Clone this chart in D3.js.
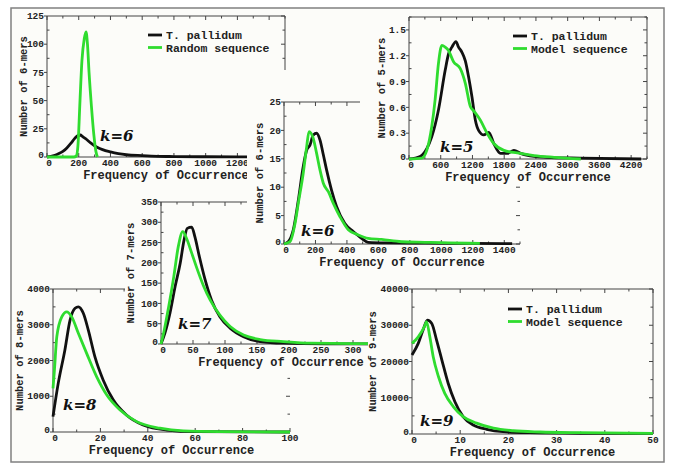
<!DOCTYPE html>
<html>
<head>
<meta charset="utf-8">
<script src="https://cdn.jsdelivr.net/npm/d3@7"></script>
<style>
body { margin: 0; background: #fff; }
text { font-family: "Liberation Mono", "DejaVu Sans Mono", monospace; font-weight: bold; fill: #222; }
.klabel { font-family: "DejaVu Serif", serif; font-style: italic; font-weight: bold; font-size: 15px; fill: #111; }
</style>
</head>
<body>
<svg id="fig"></svg>
<script>
// ---- data: [frequency, number of k-mers] ----
var k6RandTp = [[0,0],[25,0.5],[50,1.5],[75,3],[100,5],[125,8],[150,12],[175,16.5],[195,19],[210,19.5],[225,18],[250,15.5],[275,12.5],[300,10],[325,8],[350,6.5],[400,4.5],[450,3],[500,2],[600,1.2],[700,0.6],[800,0.4],[1000,0.2],[1200,0.1],[1400,0]];
var k6Random = [[0,0],[170,0],[185,1],[195,10],[208,50],[220,85],[235,105],[246,111],[255,100],[265,75],[280,45],[295,20],[308,5],[318,0]];

var k5Tp = [[0,0],[209,0.03],[336,0.12],[431,0.26],[557,0.57],[684,1.03],[747,1.22],[811,1.3],[887,1.365],[937,1.3],[1001,1.24],[1065,1.14],[1128,0.95],[1191,0.72],[1255,0.45],[1318,0.33],[1413,0.28],[1508,0.31],[1603,0.18],[1730,0.065],[1857,0.065],[1984,0.1],[2110,0.065],[2364,0.03],[2600,0.02],[3230,0.01],[4390,0]];
var k5Model = [[0,0],[241,0.01],[336,0.1],[431,0.38],[494,0.69],[557,1.11],[621,1.32],[684,1.3],[747,1.26],[842,1.13],[970,1.05],[1065,0.88],[1160,0.61],[1223,0.56],[1350,0.45],[1477,0.3],[1603,0.18],[1794,0.1],[2047,0.07],[2364,0.04],[2744,0.02],[3250,0]];

var k6Tp = [[0,0],[27,0.4],[59,2.5],[91,7.7],[122,13.6],[144,16.5],[165,17.4],[186,19.2],[207,19.5],[229,18.3],[250,15.7],[271,13],[302,9.5],[334,6.6],[387,3.6],[440,2.2],[493,1],[535,0.3],[650,0.2],[900,0.15],[1200,0.1],[1450,0.05]];
var k6Model = [[0,0],[38,0.4],[70,3.6],[91,7.2],[122,12.4],[144,17.1],[159,19.8],[186,18.6],[207,16],[229,13],[250,10.7],[282,9.2],[313,7.2],[356,4.8],[409,2.5],[472,1.6],[535,1],[620,0.8],[747,0.4],[895,0.3],[1050,0.2],[1245,0.1]];

var k7Tp = [[0,0],[6,26],[14,76],[22,141],[30,199],[36,256],[41,285],[48,288],[53,264],[60,215],[69,158],[79,108],[92,67],[108,39],[129,18],[155,6],[191,2],[260,0.5],[375,0]];
var k7Model = [[0,0],[4,26],[12,92],[20,166],[27,240],[34,277],[40,260],[48,224],[56,187],[66,145],[77,108],[92,71],[108,43],[129,22],[155,11],[191,6],[233,2],[300,1],[375,1]];

var k8Tp = [[0,430],[2.2,1360],[5,2290],[7.2,3130],[9.3,3460],[10.7,3500],[12.8,3320],[14.9,2850],[17.7,2100],[21.2,1450],[25.4,900],[31,475],[38,195],[48,55],[60,10],[100,0]];
var k8Model = [[0,1220],[0.6,1730],[1.6,2660],[3.7,3220],[5.8,3360],[7.9,3220],[10.7,2760],[14.2,2200],[18.4,1550],[22.7,1035],[28.3,615],[35.3,290],[45.1,105],[55,30],[70,10],[100,0]];

var k9Tp = [[0,21800],[1.3,25000],[2.3,28700],[3.2,31400],[4.1,30500],[5.1,25900],[6.2,20400],[7.5,14000],[8.9,8900],[10.6,4800],[12.7,2500],[15.5,1300],[18.9,630],[24.5,360],[35,200],[50,150]];
var k9Model = [[0,25000],[1.3,26800],[2.7,30000],[3.0,31000],[3.7,26800],[4.4,21300],[5.5,15800],[6.8,11200],[8.6,7500],[10.6,4800],[13.4,3000],[16.9,1600],[21,900],[26.6,550],[34.8,360],[50,200]];

// ---- tick labels (only the ones left visible in the figure) ----
var ticks6xRand = [0,200,400,600,800,1000,1200];
var ticks6yRand = [0,25,50,75,100,125];
var ticks5x = [0,600,1200,1800,2400,3000,3600,4200];
var ticks5y = [0,0.3,0.6,0.9,1.2,1.5];
var ticks6x = [0,200,400,600,800,1000,1200,1400];
var ticks6y = [0,5,10,15,20,25];
var ticks7x = [0,50,100,150,200,250,300];
var ticks7y = [0,50,100,150,200,250,300,350];
var ticks8x = [0,20,40,60,80,100];
var ticks8y = [0,1000,2000,3000,4000];
var ticks9x = [0,10,20,30,40,50];
var ticks9y = [0,10000,20000,30000,40000];

var seriesNames = ["T. pallidum", "Random sequence", "Model sequence"];

var W = 673, H = 463, bg = "#fcfcf9";
var BLACK = "#111", GREEN = "#2fdc2f";

var svg = d3.select("#fig").attr("width", W).attr("height", H);
svg.append("rect").attr("x", 11).attr("y", 8).attr("width", 653).attr("height", 454).attr("fill", bg);

// panels in drawing order (later ones cover earlier ones)
var panels = [
  { k: "k=6", x0: 47, x1: 285, y0: 16, y1: 157, xd: [0,1500], yd: [0,125],
    xt: ticks6xRand, xm: 100, yt: ticks6yRand, ym: 12.5, box: [15,10,290,185], yTitleX: 23, yTitle: "Number of 6-mers",
    kPos: [100,141], legend: [148,35], series: [[k6RandTp, BLACK, 0], [k6Random, GREEN, 1]] },
  { k: "k=8", x0: 53, x1: 290, y0: 289, y1: 432, xd: [0,100], yd: [0,4000],
    xt: ticks8x, xm: 10, yt: ticks8y, ym: 500, box: [15,280,300,458], yTitleX: 19, yTitle: "Number of 8-mers",
    kPos: [63,410], noRightLine: true, series: [[k8Tp, BLACK], [k8Model, GREEN]] },
  { k: "k=7", x0: 161, x1: 401, y0: 202, y1: 344, xd: [0,375], yd: [0,350],
    xt: ticks7x, xm: 25, yt: ticks7y, ym: 25, box: [125,193,405,370], yTitleX: 130, yTitle: "Number of 7-mers",
    kPos: [178,329], series: [[k7Tp, BLACK], [k7Model, GREEN]] },
  { k: "k=6", x0: 284, x1: 520, y0: 102, y1: 244, xd: [0,1500], yd: [0,25],
    xt: ticks6x, xm: 100, yt: ticks6y, ym: 2.5, box: [247,70,530,270], yTitleX: 259, yTitle: "Number of 6-mers",
    kPos: [301,236], noRightLine: true, series: [[k6Tp, BLACK], [k6Model, GREEN]] },
  { k: "k=5", x0: 409, x1: 647, y0: 17, y1: 159, xd: [0,4500], yd: [0,1.65],
    xt: ticks5x, xm: 300, yt: ticks5y, ym: 0.15, box: [360,10,662,186], yTitleX: 381, yTitle: "Number of 5-mers",
    kPos: [440,152], legend: [513,36], series: [[k5Tp, BLACK, 0], [k5Model, GREEN, 2]] },
  { k: "k=9", x0: 412, x1: 653, y0: 289, y1: 434, xd: [0,50], yd: [0,40000],
    xt: ticks9x, xm: 5, yt: ticks9y, ym: 5000, box: [368,270,661,459], yTitleX: 372, yTitle: "Number of 9-mers",
    kPos: [420,426], legend: [508,309], series: [[k9Tp, BLACK, 0], [k9Model, GREEN, 2]] }
];

panels.forEach(drawPanel);

svg.append("rect").attr("x", 11).attr("y", 8).attr("width", 653).attr("height", 454)
  .attr("fill", "none").attr("stroke", "#808080").attr("stroke-width", 1.5);

function drawPanel(p) {
  var g = svg.append("g");
  g.append("rect")
    .attr("x", p.box[0]).attr("y", p.box[1])
    .attr("width", p.box[2] - p.box[0]).attr("height", p.box[3] - p.box[1])
    .attr("fill", bg);

  var x = d3.scaleLinear().domain(p.xd).range([p.x0, p.x1]);
  var y = d3.scaleLinear().domain(p.yd).range([p.y1, p.y0]);
  var axisColor = "#444";

  // frame
  var frame = [[p.x0, p.y1, p.x1, p.y1], [p.x0, p.y0, p.x1, p.y0], [p.x0, p.y0, p.x0, p.y1]];
  if (!p.noRightLine) frame.push([p.x1, p.y0, p.x1, p.y1]);
  g.selectAll(".frame").data(frame).enter().append("line")
    .attr("x1", d => d[0]).attr("y1", d => d[1]).attr("x2", d => d[2]).attr("y2", d => d[3])
    .attr("stroke", axisColor).attr("stroke-width", 1);

  // tick marks
  var xMinor = d3.range(p.xd[0], p.xd[1] + 1e-9, p.xm);
  var yMinor = d3.range(p.yd[0], p.yd[1] + 1e-9, p.ym);
  var tickPaths = [];
  xMinor.forEach(function(v) {
    var major = Math.abs(v / (2 * p.xm) - Math.round(v / (2 * p.xm))) < 1e-6;
    var len = major ? 4 : 2.5, px = x(v);
    tickPaths.push("M" + px + "," + p.y1 + "v" + (-len));
    tickPaths.push("M" + px + "," + p.y0 + "v" + len);
  });
  yMinor.forEach(function(v) {
    var major = Math.abs(v / (2 * p.ym) - Math.round(v / (2 * p.ym))) < 1e-6;
    var len = major ? 4 : 2.5, py = y(v);
    if (major) tickPaths.push("M" + (p.x0 - 3) + "," + py + "h3");
    else tickPaths.push("M" + p.x0 + "," + py + "h" + len);
    tickPaths.push("M" + p.x1 + "," + py + "h" + (-len));
  });
  g.append("path").attr("d", tickPaths.join("")).attr("stroke", axisColor).attr("stroke-width", 1).attr("fill", "none");

  // tick labels
  g.selectAll(".xl").data(p.xt).enter().append("text")
    .attr("x", d => x(d) + (d === 0 ? 2 : 0)).attr("y", p.y1 + 9)
    .attr("text-anchor", "middle").style("font-size", "9.5px")
    .text(d => d);
  g.selectAll(".yl").data(p.yt).enter().append("text")
    .attr("x", p.x0 - 3).attr("y", d => y(d) + 3.2 - (d === 0 ? 2 : 0))
    .attr("text-anchor", "end").style("font-size", "9.5px")
    .text(d => d);

  // axis titles
  g.append("text").attr("x", (p.x0 + p.x1) / 2).attr("y", p.y1 + 21.5)
    .attr("text-anchor", "middle").style("font-size", "12px")
    .text("Frequency of Occurrence");
  g.append("text")
    .attr("transform", "translate(" + p.yTitleX + "," + ((p.y0 + p.y1) / 2) + ") rotate(-90)")
    .attr("text-anchor", "middle").attr("dy", "0.35em").style("font-size", "10.5px")
    .text(p.yTitle);

  // curves
  var line = d3.line().x(d => x(d[0])).y(d => y(d[1])).curve(d3.curveMonotoneX);
  p.series.forEach(function(s) {
    g.append("path").datum(s[0]).attr("d", line)
      .attr("fill", "none").attr("stroke", s[1]).attr("stroke-width", 2.8)
      .attr("stroke-linejoin", "round");
  });

  // k label
  g.append("text").attr("class", "klabel").attr("x", p.kPos[0]).attr("y", p.kPos[1]).text(p.k);

  // legend
  if (p.legend) {
    p.series.forEach(function(s, i) {
      var ly = p.legend[1] + i * 12.5;
      g.append("line").attr("x1", p.legend[0]).attr("x2", p.legend[0] + 14)
        .attr("y1", ly).attr("y2", ly).attr("stroke", s[1]).attr("stroke-width", 2.8);
      g.append("text").attr("x", p.legend[0] + 18).attr("y", ly + 4)
        .style("font-size", "11.5px").text(seriesNames[s[2]]);
    });
  }
}
</script>
</body>
</html>
